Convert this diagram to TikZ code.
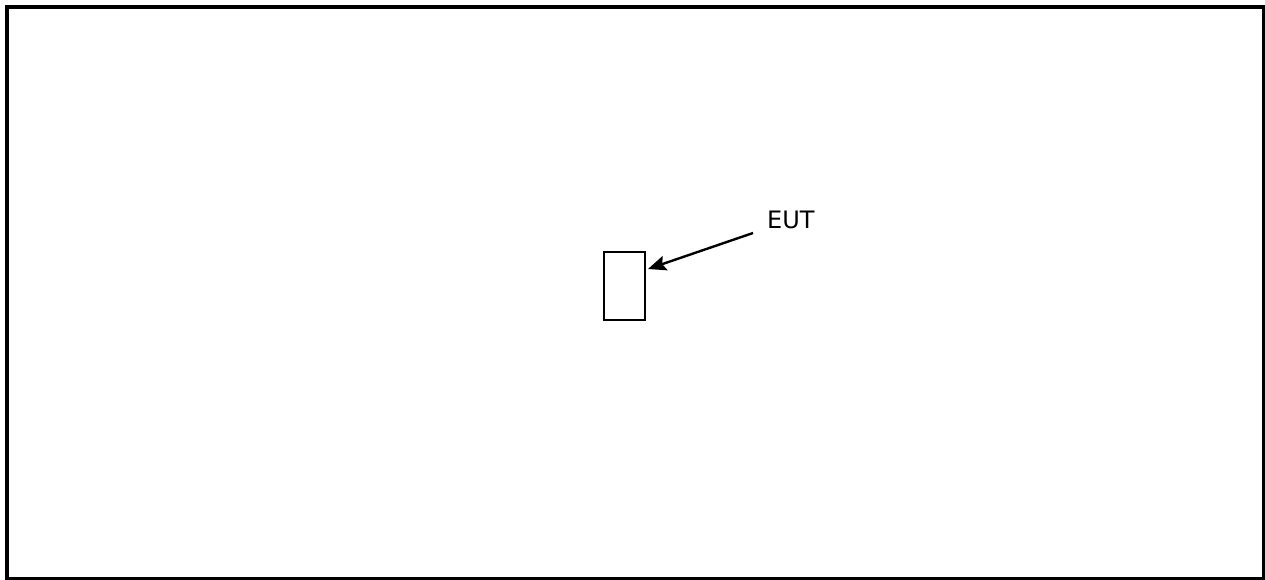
\documentclass[tikz,border=0pt]{standalone}
\usepackage{fontspec}
\setmainfont{DejaVu Sans}
\usetikzlibrary{arrows.meta}
\begin{document}
\begin{tikzpicture}[x=1pt,y=-1pt,
  frame/.style={draw=black,line width=3.8pt},
  eutbox/.style={draw=black,line width=1.6pt},
  pointer/.style={draw=black,line width=2.4pt,-{Stealth[length=18pt,width=15pt,inset=3pt]}},
  lbl/.style={font=\fontsize{24}{29}\selectfont,inner sep=0pt,anchor=base west}]
\useasboundingbox (0,0) rectangle (1265,580);
\node[frame,minimum width=1256.5pt,minimum height=572pt,inner sep=0pt,anchor=north west] (fr) at (5,5) {};
\node[eutbox,minimum width=41pt,minimum height=68pt,inner sep=0pt,anchor=north west] (eut) at (603,251) {};
\node[lbl] (t) at (767,228) {EUT};
\coordinate (s) at (753,233);
\draw[pointer] (s) -- (648,269);
\end{tikzpicture}
\end{document}
